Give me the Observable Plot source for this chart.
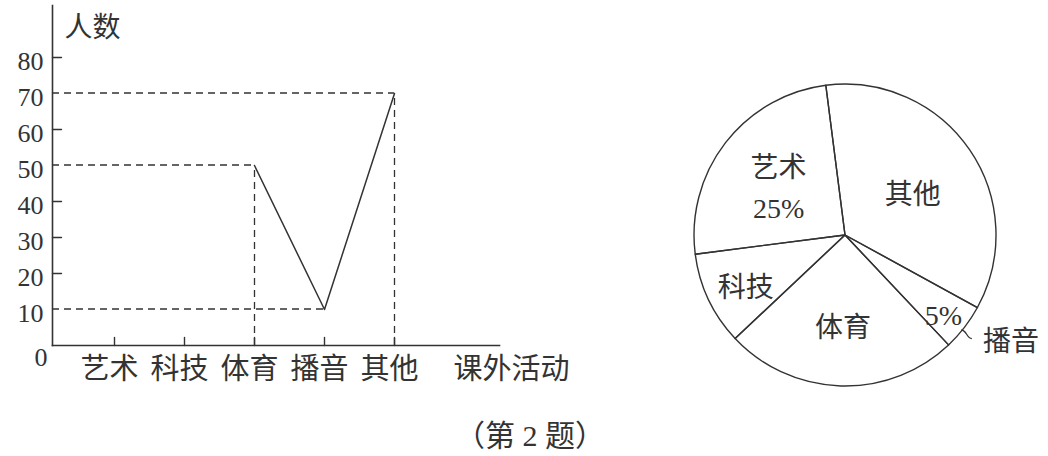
<!DOCTYPE html>
<html><head><meta charset="utf-8">
<script src="https://cdn.jsdelivr.net/npm/d3@7"></script>
<script src="https://cdn.jsdelivr.net/npm/@observablehq/plot@0.6"></script>
<style>
body{margin:0;background:#fff;}
#wrap{position:relative;width:1048px;height:456px;overflow:hidden;font-family:"Liberation Serif","DejaVu Serif","Noto Sans CJK SC",serif;color:#333;}
#line{position:absolute;left:0;top:0;}
#pie{position:absolute;left:680px;top:70px;}
#cap{position:absolute;left:0;width:1060px;top:418px;text-align:center;font-size:30px;line-height:36px;}
svg{overflow:visible;}
</style></head><body>
<div id="wrap"><div id="line"></div><div id="pie"></div><div id="cap">（第 2 题）</div></div>
<script>
// ---- data ----
const categories = ["艺术", "科技", "体育", "播音", "其他"];
const knownCategories = ["体育", "播音", "其他"];
const knownCounts = [50, 10, 70];
const verticalGuides = ["体育", "其他"];
const yTickValues = [10, 20, 30, 40, 50, 60, 70, 80];
const xAxisTitle = "课外活动";
const yAxisTitle = "人数";

const pieCategories = ["其他", "播音", "体育", "科技", "艺术"];
const piePercents = [35, 5, 25, 10, 25];
const pieShownPercent = ["", "5%", "", "", "25%"];
const pieStartDeg = -7.3;

// ---- line chart ----
const ink = "#333";
const serif = "'Liberation Serif', 'DejaVu Serif', 'Noto Sans CJK SC', serif";
const points = knownCategories.map((c, i) => ({cat: c, n: knownCounts[i]}));
const tickShape = {draw(ctx, l) { ctx.moveTo(0, 0); ctx.lineTo(0, -l); }};

// horizontal dashed guides from the y axis to each point, drawn with Plot's scales
function hGuides(index, scales, values, dims) {
  const g = d3.create("svg:g");
  g.selectAll("line").data(points).join("line")
    .attr("x1", dims.marginLeft).attr("x2", d => scales.x(d.cat))
    .attr("y1", d => scales.y(d.n)).attr("y2", d => scales.y(d.n))
    .attr("stroke", ink).attr("stroke-width", 1.3).attr("stroke-dasharray", "7,5");
  return g.node();
}

const line = Plot.plot({
  width: 620, height: 400,
  marginLeft: 52, marginRight: 121, marginTop: 5, marginBottom: 55,
  x: {type: "point", domain: categories, range: [114, 394], padding: 0, axis: null},
  y: {domain: [0, 80], range: [345, 57], axis: null},
  style: {fontFamily: serif, color: ink, background: "transparent"},
  marks: [
    hGuides,
    Plot.ruleX(points.filter(d => verticalGuides.includes(d.cat)), {x: "cat", y1: 0, y2: "n", stroke: ink, strokeWidth: 1.3, strokeDasharray: "7,5"}),
    Plot.frame({anchor: "left", stroke: ink, strokeWidth: 1.6}),
    Plot.frame({anchor: "bottom", stroke: ink, strokeWidth: 1.6}),
    Plot.vector(yTickValues.filter(v => !knownCounts.includes(v)), {y: d => d, frameAnchor: "left", rotate: 90, length: 9, anchor: "start", shape: tickShape, stroke: ink, strokeWidth: 1.4}),
    Plot.vector(categories, {x: d => d, frameAnchor: "bottom", rotate: 0, length: 8, anchor: "start", shape: tickShape, stroke: ink, strokeWidth: 1.4}),
    Plot.text(yTickValues, {y: d => d, text: d => String(d), frameAnchor: "left", textAnchor: "end", dx: -9, dy: 4, fontSize: 26, fontFamily: serif, fill: ink}),
    Plot.text([0], {y: d => d, text: d => String(d), frameAnchor: "left", textAnchor: "end", dx: -5, dy: 12, fontSize: 26, fontFamily: serif, fill: ink}),
    Plot.text(categories, {x: d => d, text: d => d, frameAnchor: "bottom", dy: 33, dx: -5, fontSize: 29, fontFamily: serif, fill: ink}),
    Plot.text([xAxisTitle], {text: d => d, frameAnchor: "bottom-right", dy: 33, dx: 12, textAnchor: "middle", fontSize: 29, fontFamily: serif, fill: ink}),
    Plot.text([yAxisTitle], {text: d => d, frameAnchor: "top-left", textAnchor: "start", lineAnchor: "top", dx: 12, dy: 12, fontSize: 28, fontFamily: serif, fill: ink}),
    Plot.line(points, {x: "cat", y: "n", stroke: ink, strokeWidth: 1.5})
  ]
});
document.getElementById("line").append(line);

// ---- pie chart ----
const rad = Math.PI / 180;
const arcs = d3.pie().sort(null).startAngle(pieStartDeg * rad).endAngle(pieStartDeg * rad + 2 * Math.PI)(piePercents);
const labelR = {"其他": 0.54, "播音": 0.82, "体育": 0.58, "科技": 0.73, "艺术": 0.56};
const pieLabels = arcs.map((a, i) => {
  const m = (a.startAngle + a.endAngle) / 2;
  const name = pieCategories[i];
  const inside = name === "播音" ? pieShownPercent[i] : (pieShownPercent[i] ? name + "\n" + pieShownPercent[i] : name);
  return {x: labelR[name] * Math.sin(m), y: labelR[name] * Math.cos(m), text: inside};
});
const outside = arcs.map((a, i) => ({a, name: pieCategories[i]})).filter(d => d.name === "播音").map(d => {
  const m = (d.a.startAngle + d.a.endAngle) / 2 + 1.5 * rad;
  return {x1: 0.99 * Math.sin(m), y1: 0.99 * Math.cos(m), x2: 1.08 * Math.sin(m), y2: 1.08 * Math.cos(m), name: d.name};
});

function pieMark(index, scales) {
  const cx = scales.x(0), cy = scales.y(0), r = scales.x(1) - scales.x(0);
  const g = d3.create("svg:g").attr("transform", `translate(${cx},${cy})`);
  const arc = d3.arc().innerRadius(0).outerRadius(r);
  g.selectAll("path").data(arcs).join("path")
    .attr("d", arc).attr("fill", "none").attr("stroke", ink)
    .attr("stroke-width", 1.4).attr("stroke-linejoin", "round");
  return g.node();
}

const pie = Plot.plot({
  width: 368, height: 330, margin: 0,
  x: {domain: [-1, 1], range: [14, 316], axis: null},
  y: {domain: [-1, 1], range: [316, 14], axis: null},
  style: {fontFamily: serif, color: ink, background: "transparent"},
  marks: [
    pieMark,
    Plot.text(pieLabels, {x: "x", y: "y", text: "text", dy: 1, fontSize: 28, lineHeight: 1.45, fontFamily: serif, fill: ink}),
    Plot.link(outside, {x1: "x1", y1: "y1", x2: "x2", y2: "y2", stroke: ink, strokeWidth: 1.3, curve: "bump-x"}),
    Plot.text(outside, {x: "x2", y: "y2", text: "name", textAnchor: "start", dx: 11, dy: 3, fontSize: 28, fontFamily: serif, fill: ink})
  ]
});
document.getElementById("pie").append(pie);
</script>
</body></html>
